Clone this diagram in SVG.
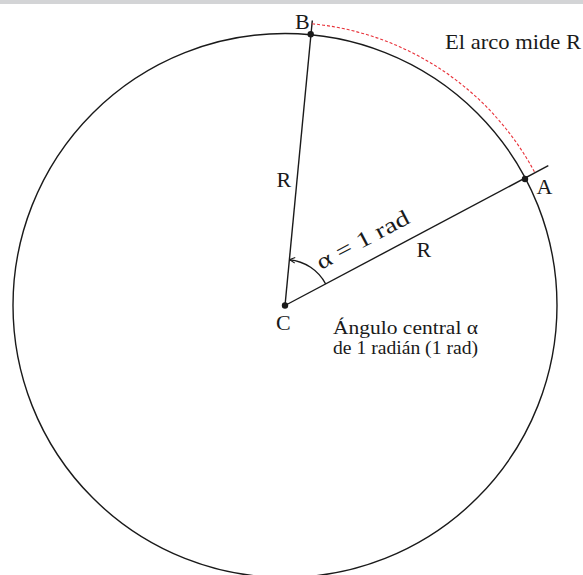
<svg xmlns="http://www.w3.org/2000/svg" width="583" height="575" viewBox="0 0 583 575">
<defs>
<style>
.ln{fill:none;stroke:#1a1a1a;stroke-width:1.4}
.t{font-family:"Liberation Serif","Times New Roman",serif;fill:#1a1a1a}
.dot{fill:#1a1a1a}
</style>
<marker id="arr" viewBox="0 0 10 10" refX="9" refY="5" markerWidth="7" markerHeight="7" markerUnits="userSpaceOnUse" orient="auto">
<path d="M1,1 L9,5 L1,9" fill="none" stroke="#1a1a1a" stroke-width="1.4"/>
</marker>
</defs>
<rect x="0" y="0" width="583" height="575" fill="#ffffff"/>
<rect x="0" y="0" width="583" height="4" fill="#d3d4d6"/>
<g id="circle">
<circle class="ln" cx="285" cy="305.5" r="272"/>
</g>
<g id="connectors">
<line class="ln" x1="285" y1="305.5" x2="548.3" y2="165.7"/>
<line class="ln" x1="285" y1="305.5" x2="312.3" y2="20.5"/>
<path d="M312.1,23.8 A283,283 0 0 1 535.1,173.1" fill="none" stroke="#e8323a" stroke-width="1.1" stroke-dasharray="3,2"/>
<path class="ln" d="M325.7,284 A46,46 0 0 0 289.4,259.7" stroke-width="1" marker-end="url(#arr)"/>
</g>
<g id="C">
<circle class="dot" cx="285" cy="305.5" r="3.2"/>
<text class="t" x="276" y="330" font-size="22">C</text>
</g>
<g id="A">
<circle class="dot" cx="525" cy="179" r="3.2"/>
<text class="t" x="536.5" y="193.5" font-size="22">A</text>
</g>
<g id="B">
<circle class="dot" cx="310.7" cy="34.3" r="3.2"/>
<text class="t" x="295" y="28.5" font-size="22">B</text>
</g>
<g id="labels">
<text class="t" x="445" y="48.5" font-size="21" textLength="136" lengthAdjust="spacingAndGlyphs">El arco mide R</text>
<text class="t" x="276.5" y="186.5" font-size="22">R</text>
<text class="t" x="416.5" y="257" font-size="22">R</text>
<text class="t" font-size="22" transform="translate(321,270) rotate(-27.8)" textLength="102" lengthAdjust="spacingAndGlyphs">α = 1 rad</text>
<text class="t" x="333" y="334" font-size="19" textLength="145" lengthAdjust="spacingAndGlyphs">Ángulo central α</text>
<text class="t" x="333" y="354" font-size="19" textLength="145" lengthAdjust="spacingAndGlyphs">de 1 radián (1 rad)</text>
</g>
</svg>
